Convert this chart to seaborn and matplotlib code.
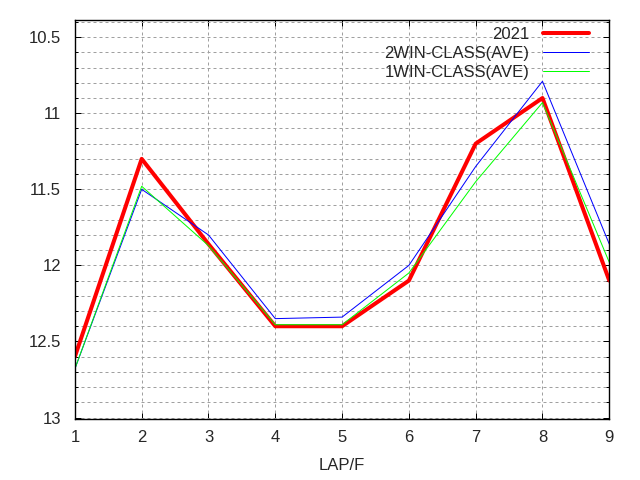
import matplotlib
matplotlib.use("Agg")
import matplotlib.pyplot as plt
from matplotlib.ticker import MultipleLocator, FuncFormatter
import pandas as pd
import seaborn as sns

# lap index (furlong) and split times
laps = [1, 2, 3, 4, 5, 6, 7, 8, 9]
times_2021 = [12.6, 11.3, 11.86, 12.4, 12.4, 12.1, 11.2, 10.9, 12.1]
times_2win = [12.68, 11.5, 11.8, 12.35, 12.34, 12.0, 11.35, 10.79, 11.86]
times_1win = [12.68, 11.48, 11.87, 12.39, 12.39, 12.05, 11.45, 10.93, 11.98]

series_names = ["2021", "2WIN-CLASS(AVE)", "1WIN-CLASS(AVE)"]
series_colors = ["#ff0000", "#0000ff", "#00ff00"]
series_widths = [2.9, 0.72, 0.72]

df = pd.DataFrame({
    "lap": laps * 3,
    "time": times_2021 + times_2win + times_1win,
    "series": [series_names[0]] * 9 + [series_names[1]] * 9 + [series_names[2]] * 9,
})

sns.set_style("white")
plt.rcParams["font.family"] = ["Liberation Sans", "DejaVu Sans"]
plt.rcParams["font.size"] = 12

fig = plt.figure(figsize=(6.4, 4.8), dpi=100)
ax = fig.add_axes([0.117, 0.127, 0.835, 0.832])

for name, color, lw in zip(series_names, series_colors, series_widths):
    sub = df[df["series"] == name]
    sns.lineplot(data=sub, x="lap", y="time", ax=ax, color=color, linewidth=lw,
                 label=name, estimator=None, sort=False)

ax.set_xlim(1, 9)
ax.set_ylim(13.01, 10.385)
ax.xaxis.set_major_locator(MultipleLocator(1))
ax.yaxis.set_major_locator(MultipleLocator(0.5))
ax.yaxis.set_minor_locator(MultipleLocator(0.1))
ax.yaxis.set_major_formatter(FuncFormatter(lambda v, p: f"{v:g}"))

ax.grid(True, which="major", axis="x", color="#a0a0a0", linestyle=(0, (3, 3)), linewidth=0.72)
ax.grid(True, which="both", axis="y", color="#a0a0a0", linestyle=(0, (3, 3)), linewidth=0.72)
ax.set_axisbelow(True)

ax.tick_params(axis="both", which="both", direction="in", color="black",
               top=True, right=True, bottom=True, left=True, labelsize=12)
ax.tick_params(axis="both", which="major", length=4.5, width=0.72)
ax.tick_params(axis="both", which="minor", length=2.2, width=0.72)
ax.tick_params(axis="x", pad=8)
ax.tick_params(axis="y", pad=10)

for spine in ax.spines.values():
    spine.set_color("black")
    spine.set_linewidth(1.0)

ax.set_xlabel("LAP/F", fontsize=12, labelpad=9)
ax.set_ylabel("")

leg = ax.legend(loc="upper right", bbox_to_anchor=(0.983, 1.011), frameon=False,
                markerfirst=False, handlelength=2.76, handletextpad=0.78,
                labelspacing=0.25, borderaxespad=0.3, fontsize=12)
for text in leg.get_texts():
    text.set_ha("right")

fig.savefig("out.png", dpi=100)
